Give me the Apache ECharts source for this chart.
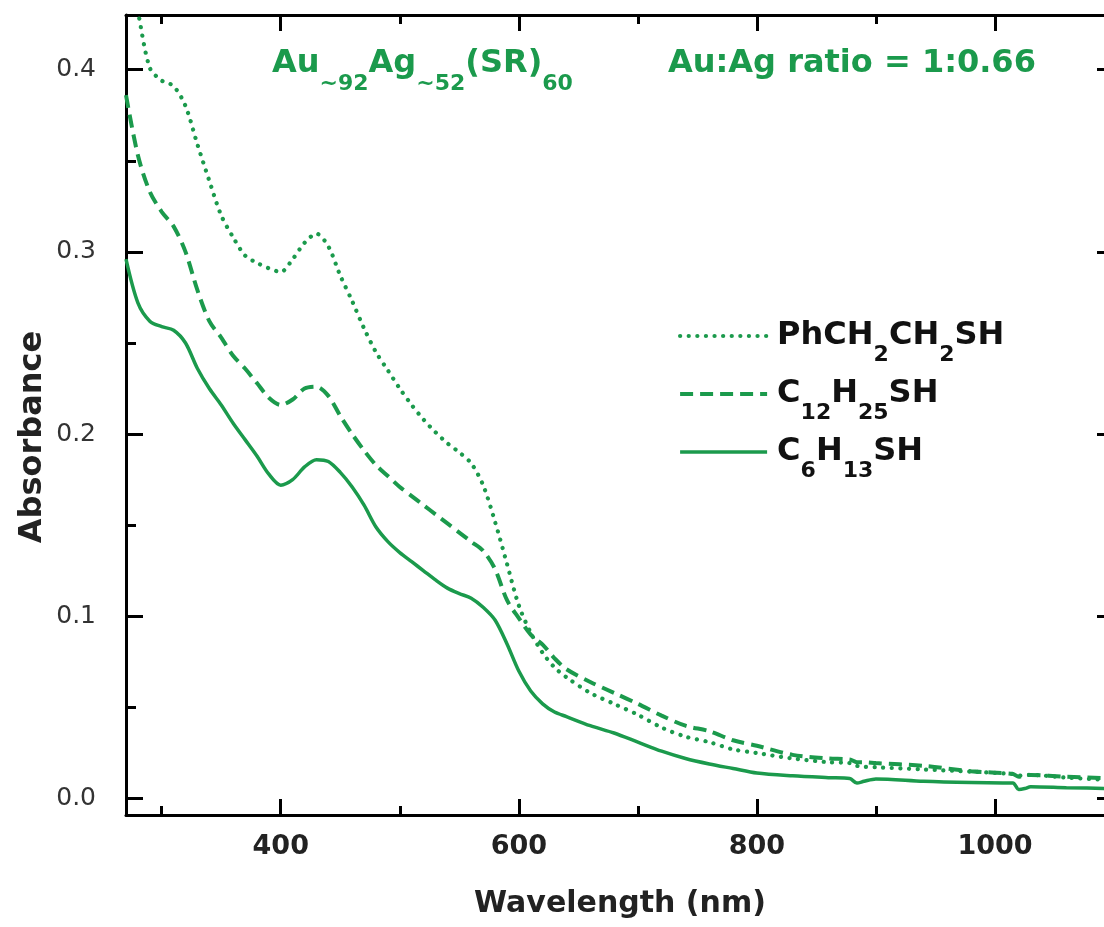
<!DOCTYPE html>
<html>
<head>
<meta charset="utf-8">
<script src="https://cdn.jsdelivr.net/npm/echarts@6/dist/echarts.min.js"></script>
<style>
html,body{margin:0;padding:0;background:#fff;}
#chart{width:1104px;height:927px;}
</style>
</head>
<body>
<div id="chart"></div>
<script>
// ---- data ----
const wavelength = [270,280,290,300,310,320,330,340,350,360,370,380,390,400,410,420,430,440,450,460,470,480,490,500,510,520,530,540,550,560,570,580,590,600,610,620,630,640,660,680,700,720,740,760,780,800,830,860,878,884,890,900,940,980,1015,1020,1025,1030,1060,1100];
const absPhCH2CH2SH = [0.465,0.432,0.401,0.394,0.391,0.380,0.359,0.339,0.320,0.308,0.298,0.294,0.291,0.289,0.296,0.305,0.310,0.303,0.287,0.273,0.258,0.245,0.235,0.225,0.216,0.208,0.201,0.195,0.190,0.184,0.172,0.152,0.129,0.106,0.091,0.080,0.072,0.0666,0.058,0.052,0.046,0.039,0.034,0.031,0.027,0.025,0.022,0.020,0.0195,0.018,0.0175,0.0172,0.016,0.0148,0.0135,0.0125,0.013,0.013,0.0115,0.010];
const absC12H25SH = [0.386,0.353,0.333,0.322,0.314,0.300,0.279,0.262,0.253,0.243,0.236,0.228,0.220,0.216,0.219,0.225,0.226,0.221,0.210,0.200,0.191,0.183,0.177,0.171,0.166,0.161,0.156,0.151,0.146,0.141,0.136,0.126,0.109,0.099,0.090,0.0845,0.077,0.071,0.064,0.058,0.052,0.0455,0.040,0.037,0.032,0.029,0.024,0.022,0.0215,0.020,0.020,0.0195,0.018,0.015,0.0135,0.012,0.013,0.013,0.012,0.011];
const absC6H13SH = [0.296,0.272,0.262,0.259,0.257,0.250,0.236,0.225,0.216,0.206,0.197,0.188,0.178,0.172,0.175,0.182,0.186,0.185,0.179,0.171,0.161,0.149,0.141,0.135,0.130,0.125,0.120,0.1155,0.1125,0.110,0.105,0.098,0.085,0.070,0.059,0.052,0.0475,0.045,0.040,0.036,0.031,0.026,0.022,0.019,0.0165,0.014,0.0125,0.0115,0.011,0.0085,0.0095,0.0108,0.0095,0.0088,0.0085,0.005,0.0055,0.0065,0.006,0.0055];
const seriesNames = ['PhCH2CH2SH','C12H25SH','C6H13SH'];
const xMajorTicks = [400,600,800,1000];
const xMinorTicks = [300,500,700,900,1100];
const yMajorTicks = [0,0.1,0.2,0.3,0.4];
const yMinorTicks = [0.05,0.15,0.25,0.35];
const xRange = [270,1100];
const yRange = [-0.009,0.43];

// ---- styling ----
const GREEN = '#1b9a4c';
const FONT = '"DejaVu Sans", "Liberation Sans", Arial, sans-serif';
const lineStyles = [
  {color:GREEN, width:4.2, type:[0.1,8.5], cap:'round'},
  {color:GREEN, width:4, type:[13,7]},
  {color:GREEN, width:3.5, type:'solid'}
];

function pairs(ys){ return wavelength.map((x,i)=>[x, ys[i]]); }

function xAx(pos, ticks, len, opts){
  return Object.assign({
    type:'value', position:pos, min:xRange[0], max:xRange[1],
    axisLine:{show:false, onZero:false},
    axisTick:{show:true, inside:true, length:len, customValues:ticks, lineStyle:{color:'#000', width:3}},
    axisLabel:{show:false}, splitLine:{show:false}
  }, opts||{});
}
function yAx(pos, ticks, len, opts){
  return Object.assign({
    type:'value', position:pos, min:yRange[0], max:yRange[1],
    axisLine:{show:false, onZero:false},
    axisTick:{show:true, inside:true, length:len, customValues:ticks, lineStyle:{color:'#000', width:3}},
    axisLabel:{show:false}, splitLine:{show:false}
  }, opts||{});
}
const axisLineStyle = {show:true, onZero:false, lineStyle:{color:'#000', width:3}};

// rich text: main text centred, digit subscripts dropped
const SUB_DROP = 19;
const legendRich = {
  m:{fontFamily:FONT, fontSize:32, fontWeight:'bold', color:'#111', verticalAlign:'middle'},
  s:{fontFamily:FONT, fontSize:22, fontWeight:'bold', color:'#111', verticalAlign:'middle', padding:[2*SUB_DROP,0,0,0]}
};
function chemRich(name){
  return name.replace(/(\d+)/g, '}{s|$1}{m|').replace(/^/, '{m|').replace(/$/, '}').replace(/\{m\|\}/g,'');
}
const TITLE_DROP = 20;

const chart = echarts.init(document.getElementById('chart'), null, {renderer:'canvas'});
chart.setOption({
  animation:false,
  backgroundColor:'#fff',
  grid:{left:126, right:-10, top:15, bottom:112, containLabel:false, outerBoundsMode:'none'},
  xAxis:[
    xAx('bottom', xMajorTicks, 16, {
      axisLine:axisLineStyle,
      axisLabel:{show:true, customValues:xMajorTicks, margin:18, fontFamily:FONT, fontSize:27, fontWeight:'bold', color:'#222',
        formatter:(v)=>String(v)},
      name:'Wavelength (nm)', nameLocation:'middle', nameGap:74,
      nameTextStyle:{fontFamily:FONT, fontSize:30, fontWeight:'bold', color:'#222', verticalAlign:'top'}
    }),
    xAx('bottom', xMinorTicks, 9),
    xAx('top', xMajorTicks, 16, {axisLine:axisLineStyle}),
    xAx('top', xMinorTicks, 9)
  ],
  yAxis:[
    yAx('left', yMajorTicks, 17, {
      axisLine:axisLineStyle,
      axisLabel:{show:true, customValues:yMajorTicks, margin:30, fontFamily:FONT, fontSize:25, color:'#333',
        formatter:(v)=>v.toFixed(1)}
    }),
    yAx('left', yMinorTicks, 10),
    yAx('right', yMajorTicks, 17, {axisLine:axisLineStyle}),
    yAx('right', yMinorTicks, 10)
  ],
  legend:{
    orient:'vertical', left:678, top:320, padding:0, itemWidth:87, itemHeight:20, itemGap:12,
    data:seriesNames.map((n,i)=>({name:n, lineStyle:lineStyles[i], itemStyle:{opacity:0}})),
    itemStyle:{opacity:0},
    formatter:(n)=>chemRich(n),
    textStyle:{rich:legendRich, padding:[0,0,0,5]},
    selectedMode:false
  },
  series:[
    {name:seriesNames[0], type:'line', data:pairs(absPhCH2CH2SH), smooth:0.3, symbol:'none',
     lineStyle:lineStyles[0], itemStyle:{color:GREEN}, z:3},
    {name:seriesNames[1], type:'line', data:pairs(absC12H25SH), smooth:0.3, symbol:'none',
     lineStyle:lineStyles[1], itemStyle:{color:GREEN}, z:2},
    {name:seriesNames[2], type:'line', data:pairs(absC6H13SH), smooth:0.3, symbol:'none',
     lineStyle:lineStyles[2], itemStyle:{color:GREEN}, z:1}
  ],
  graphic:[
    {type:'text', x:272, y:64, style:{
      text:'{m|Au}{s|~92}{m|Ag}{s|~52}{m|(SR)}{s|60}',
      verticalAlign:'middle', align:'left',
      rich:{
        m:{fontFamily:FONT, fontSize:32, fontWeight:'bold', fill:GREEN, verticalAlign:'middle'},
        s:{fontFamily:FONT, fontSize:22, fontWeight:'bold', fill:GREEN, verticalAlign:'middle', padding:[2*TITLE_DROP,0,0,0]}
      }
    }},
    {type:'text', x:668, y:64, style:{
      text:'Au:Ag ratio = 1:0.66', fill:GREEN, font:'bold 32px ' + FONT, verticalAlign:'middle', align:'left'
    }},
    {type:'text', x:33, y:437, rotation:Math.PI/2, style:{
      text:'Absorbance', fill:'#222', font:'bold 32px ' + FONT, verticalAlign:'middle', align:'center'
    }}
  ]
});
</script>
</body>
</html>
